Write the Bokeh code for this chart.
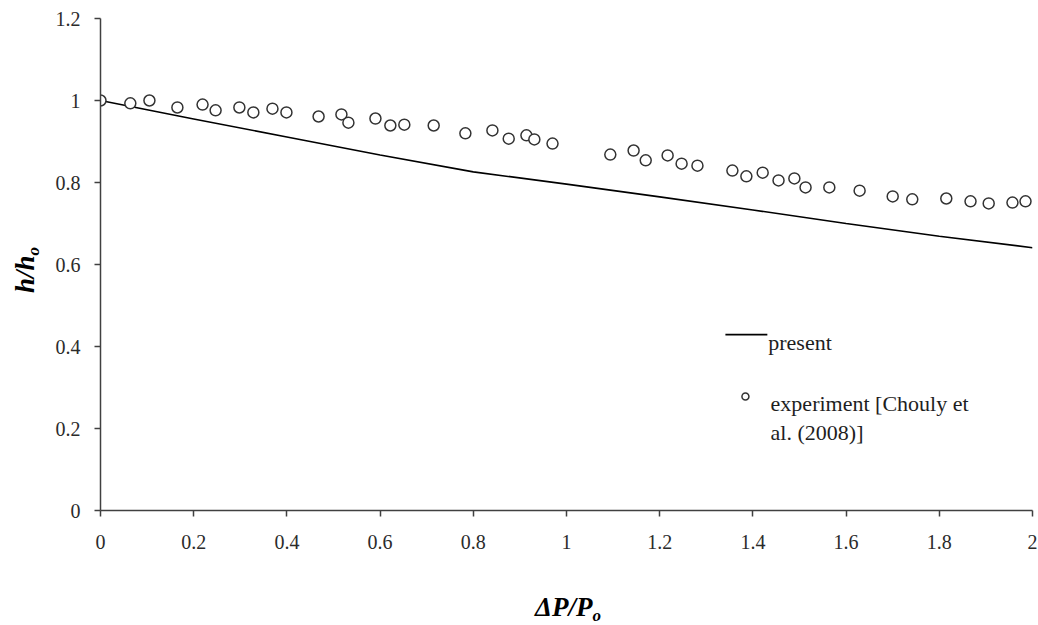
from bokeh.plotting import figure
from bokeh.models import Range1d, FixedTicker, Label, Div
from bokeh.layouts import column, row
from bokeh.embed import file_html
from bokeh.resources import INLINE

# Model prediction ("present")
model_dp = [0.0, 0.2, 0.4, 0.6, 0.8, 1.0, 1.2, 1.4, 1.6, 1.8, 2.0]
model_h = [1.0, 0.955, 0.911, 0.867, 0.826, 0.796, 0.765, 0.733, 0.700, 0.669, 0.641]

# Measurements, Chouly et al. (2008)
exp_dp = [0.0, 0.064, 0.105, 0.165, 0.219, 0.247, 0.298, 0.328, 0.369, 0.399,
          0.468, 0.517, 0.532, 0.590, 0.622, 0.652, 0.715, 0.783, 0.841, 0.876,
          0.914, 0.931, 0.970, 1.094, 1.144, 1.170, 1.217, 1.247, 1.281, 1.356,
          1.386, 1.421, 1.455, 1.489, 1.513, 1.564, 1.629, 1.700, 1.742, 1.815,
          1.867, 1.906, 1.957, 1.985]
exp_h = [1.000, 0.993, 1.000, 0.983, 0.990, 0.976, 0.983, 0.971, 0.980, 0.971,
         0.961, 0.966, 0.946, 0.956, 0.939, 0.941, 0.939, 0.920, 0.927, 0.907,
         0.915, 0.905, 0.895, 0.868, 0.878, 0.854, 0.866, 0.846, 0.841, 0.829,
         0.815, 0.824, 0.805, 0.810, 0.788, 0.788, 0.780, 0.766, 0.759, 0.761,
         0.754, 0.749, 0.751, 0.754]

x_ticks = [0.0, 0.2, 0.4, 0.6, 0.8, 1.0, 1.2, 1.4, 1.6, 1.8, 2.0]
x_tick_labels = ["0", "0.2", "0.4", "0.6", "0.8", "1", "1.2", "1.4", "1.6", "1.8", "2"]
y_ticks = [0.0, 0.2, 0.4, 0.6, 0.8, 1.0, 1.2]
y_tick_labels = ["0", "0.2", "0.4", "0.6", "0.8", "1", "1.2"]

SERIF = "Liberation Serif"
AXIS_COLOR = "#404040"
TEXT_COLOR = "#2b2b2b"

p = figure(width=988, height=560, output_backend="svg", toolbar_location=None,
           x_range=Range1d(0, 2), y_range=Range1d(0, 1.2),
           min_border_left=50, min_border_right=6,
           min_border_top=18, min_border_bottom=50, margin=0)
p.outline_line_color = None
p.xgrid.visible = False
p.ygrid.visible = False
p.background_fill_color = "white"
p.border_fill_color = "white"

for ax, ticks, labels, standoff in ((p.xaxis[0], x_ticks, x_tick_labels, 18),
                                    (p.yaxis[0], y_ticks, y_tick_labels, 14)):
    ax.ticker = FixedTicker(ticks=ticks)
    ax.major_label_overrides = {t: s for t, s in zip(ticks, labels)}
    ax.axis_line_color = AXIS_COLOR
    ax.axis_line_width = 1.5
    ax.major_tick_line_color = AXIS_COLOR
    ax.major_tick_line_width = 1.5
    ax.major_tick_out = 6
    ax.major_tick_in = 0
    ax.minor_tick_line_color = None
    ax.major_label_text_font = SERIF
    ax.major_label_text_font_size = "20px"
    ax.major_label_text_color = TEXT_COLOR
    ax.major_label_standoff = standoff

# model curve and measured points
p.line(model_dp, model_h, line_color="black", line_width=1.6)
p.scatter(exp_dp, exp_h, marker="circle", size=11, fill_color="white",
          line_color="#333333", line_width=1.5)

# legend
leg_line_x = [1.341, 1.431]
leg_line_y = [0.429, 0.429]
p.line(leg_line_x, leg_line_y, line_color="black", line_width=1.6)
p.scatter([1.384], [0.278], marker="circle", size=7, fill_color="white",
          line_color="#333333", line_width=1.5)
for txt, lx, ly in (("present", 1.433, 0.4098),
                    ("experiment [Chouly et", 1.438, 0.261),
                    ("al. (2008)]", 1.438, 0.190)):
    p.add_layout(Label(x=lx, y=ly, text=txt, text_font=SERIF,
                       text_font_size="22px", text_color="#1e1e1e",
                       text_align="left", text_baseline="alphabetic"))

# axis titles (HTML, for the subscripts)
TITLE_STYLE = ("position:absolute;white-space:nowrap;line-height:1;"
               "font-family:'Liberation Serif',serif;font-weight:bold;"
               "font-style:italic;font-size:27px;color:#000;")
SUB_STYLE = "font-size:17px;line-height:0;vertical-align:-5px;"

y_title = Div(
    text=('<div style="position:relative;width:50px;height:560px;">'
          f'<span style="{TITLE_STYLE}left:25px;top:270px;'
          'transform:translate(-50%,-50%) rotate(-90deg);">'
          f'h/h<span style="{SUB_STYLE}">o</span></span></div>'),
    width=50, height=560, margin=0)

x_title = Div(
    text=('<div style="position:relative;width:1038px;height:65px;">'
          f'<span style="{TITLE_STYLE}left:568px;top:34px;'
          'transform:translateX(-50%);">'
          f'\u0394P/P<span style="{SUB_STYLE}">o</span></span></div>'),
    width=1038, height=65, margin=0)

layout = column(row(y_title, p, spacing=0), x_title, spacing=0)

open("out.html", "w").write(file_html(layout, INLINE))
